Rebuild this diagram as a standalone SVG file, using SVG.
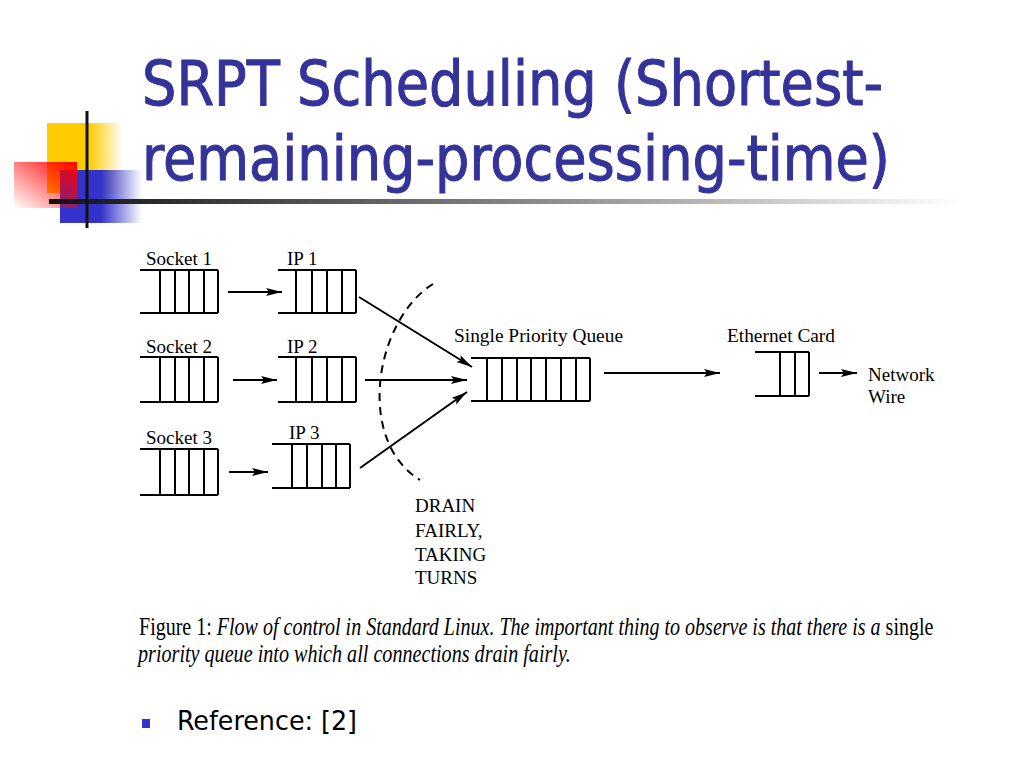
<svg xmlns="http://www.w3.org/2000/svg" width="1024" height="768" viewBox="0 0 1024 768">
<defs>
<style>
.q{fill:none;stroke:#000;stroke-width:2}
.c{fill:none;stroke:#000;stroke-width:2}
.lb{font-family:"Liberation Serif","Times New Roman",serif;font-size:19px;fill:#000}
.cap{font-family:"Liberation Serif","Times New Roman",serif;font-size:25px;fill:#000}
.it{font-style:italic}
.ttl{font-family:"DejaVu Sans Condensed","DejaVu Sans",sans-serif;font-size:62px;fill:#333399;stroke:#333399;stroke-width:1}
.ref{font-family:"DejaVu Sans Condensed","DejaVu Sans",sans-serif;font-size:27px;fill:#000}
</style>
<marker id="ah" markerUnits="userSpaceOnUse" markerWidth="18" markerHeight="10" refX="16" refY="4" orient="auto">
<path d="M0,0 L16,4 L0,8 L3,4 z" fill="#000"/>
</marker>
<linearGradient id="gy" x1="0" y1="0" x2="1" y2="0">
<stop offset="0" stop-color="#FFCC00"/><stop offset="0.55" stop-color="#FFCC00"/><stop offset="1" stop-color="#FFCC00" stop-opacity="0"/>
</linearGradient>
<linearGradient id="gb" x1="0" y1="0" x2="1" y2="0">
<stop offset="0" stop-color="#3333CC"/><stop offset="0.5" stop-color="#3333CC"/><stop offset="1" stop-color="#3333CC" stop-opacity="0"/>
</linearGradient>
<linearGradient id="gr" x1="1" y1="0" x2="0" y2="1">
<stop offset="0" stop-color="#FF0000"/><stop offset="1" stop-color="#FF0000" stop-opacity="0"/>
</linearGradient>
<linearGradient id="gl" x1="0" y1="0" x2="1" y2="0">
<stop offset="0" stop-color="#111"/><stop offset="0.6" stop-color="#999"/><stop offset="1" stop-color="#fff"/>
</linearGradient>
</defs>
<rect width="1024" height="768" fill="#fff"/>

<g id="decoration">
<rect x="47" y="123" width="76" height="70" fill="url(#gy)"/>
<rect x="60" y="170" width="82" height="53" fill="url(#gb)"/>
<rect x="14" y="162" width="63" height="46" fill="url(#gr)"/>
<rect x="49" y="199" width="912" height="5" fill="url(#gl)"/>
<rect x="85.5" y="111" width="3" height="117" fill="#111"/>
</g>

<g id="title">
<text class="ttl" x="142" y="105" textLength="741" lengthAdjust="spacingAndGlyphs">SRPT Scheduling (Shortest-</text>
<text class="ttl" x="142" y="180" textLength="748" lengthAdjust="spacingAndGlyphs">remaining-processing-time)</text>
</g>

<g id="socket1">
<path class="q" d="M140,270 H218 M140,313 H218 M160,270 V313 M175,270 V313 M189,270 V313 M204,270 V313 M218,270 V313"/>
<text class="lb" x="146" y="265">Socket 1</text>
</g>
<g id="socket2">
<path class="q" d="M140,357 H218 M140,402 H218 M160,357 V402 M175,357 V402 M189,357 V402 M204,357 V402 M218,357 V402"/>
<text class="lb" x="146" y="353">Socket 2</text>
</g>
<g id="socket3">
<path class="q" d="M140,449 H218 M140,495 H218 M160,449 V495 M175,449 V495 M189,449 V495 M204,449 V495 M218,449 V495"/>
<text class="lb" x="146" y="444">Socket 3</text>
</g>
<g id="ip1">
<path class="q" d="M278,270 H356 M278,313 H356 M296,270 V313 M312,270 V313 M327,270 V313 M342,270 V313 M356,270 V313"/>
<text class="lb" x="287" y="265">IP 1</text>
</g>
<g id="ip2">
<path class="q" d="M278,357 H356 M278,402 H356 M296,357 V402 M312,357 V402 M327,357 V402 M342,357 V402 M356,357 V402"/>
<text class="lb" x="287" y="353">IP 2</text>
</g>
<g id="ip3">
<path class="q" d="M272,444 H350 M272,488 H350 M292,444 V488 M307,444 V488 M322,444 V488 M336,444 V488 M350,444 V488"/>
<text class="lb" x="289" y="439">IP 3</text>
</g>
<g id="priorityQueue">
<path class="q" d="M471,358 H590 M471,401 H590 M487,358 V401 M502,358 V401 M517,358 V401 M531,358 V401 M546,358 V401 M561,358 V401 M576,358 V401 M590,358 V401"/>
<text class="lb" x="454" y="342" textLength="169" lengthAdjust="spacingAndGlyphs">Single Priority Queue</text>
</g>
<g id="ethernetCard">
<path class="q" d="M755,352 H809 M755,396 H809 M780,352 V396 M795,352 V396 M809,352 V396"/>
<text class="lb" x="727" y="342" textLength="108" lengthAdjust="spacingAndGlyphs">Ethernet Card</text>
</g>
<g id="networkWire">
<text class="lb" x="868" y="381">Network</text>
<text class="lb" x="868" y="403">Wire</text>
</g>
<g id="drainLabel">
<text class="lb" x="415" y="512">DRAIN</text>
<text class="lb" x="415" y="537">FAIRLY,</text>
<text class="lb" x="415" y="561">TAKING</text>
<text class="lb" x="415" y="584">TURNS</text>
</g>

<g id="connectors">
<line class="c" x1="228" y1="292" x2="282" y2="292" marker-end="url(#ah)"/>
<line class="c" x1="233" y1="380" x2="277" y2="380" marker-end="url(#ah)"/>
<line class="c" x1="229" y1="472" x2="268" y2="472" marker-end="url(#ah)"/>
<line class="c" x1="359" y1="297" x2="472" y2="367" marker-end="url(#ah)"/>
<line class="c" x1="365" y1="380" x2="467" y2="380" marker-end="url(#ah)"/>
<line class="c" x1="360" y1="468" x2="467" y2="392" marker-end="url(#ah)"/>
<line class="c" x1="604" y1="373" x2="720" y2="373" marker-end="url(#ah)"/>
<line class="c" x1="819" y1="373" x2="857" y2="373" marker-end="url(#ah)"/>
<path d="M433,284 C375,320 355,440 420,480" fill="none" stroke="#000" stroke-width="2" stroke-dasharray="8,6"/>
</g>

<g id="caption">
<text class="cap" transform="matrix(0.8,0,0,1,139,635)" x="0" y="0" textLength="993" lengthAdjust="spacingAndGlyphs">Figure 1: <tspan class="it">Flow of control in Standard Linux. The important thing to observe is that there is a</tspan> single</text>
<text class="cap it" transform="matrix(0.8,0,0,1,138,662)" x="0" y="0" textLength="541" lengthAdjust="spacingAndGlyphs">priority queue into which all connections drain fairly.</text>
</g>

<g id="reference">
<rect x="142" y="719" width="8" height="9" fill="#3333CC"/>
<text class="ref" x="177" y="730" textLength="180" lengthAdjust="spacingAndGlyphs">Reference: [2]</text>
</g>
</svg>
